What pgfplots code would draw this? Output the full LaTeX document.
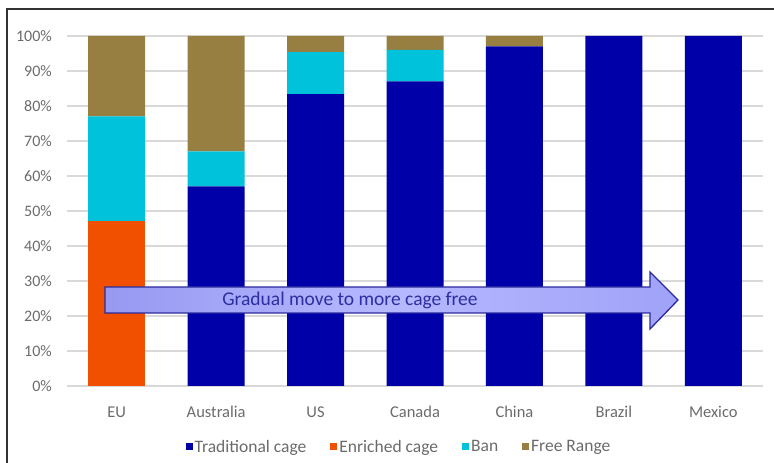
\documentclass[border=0pt]{standalone}
\usepackage{fontspec}
\setmainfont{Carlito}
\usepackage{pgfplots}
\pgfplotsset{compat=1.18}

\definecolor{tradcage}{HTML}{0000A8}
\definecolor{enrcage}{HTML}{F05000}
\definecolor{bancol}{HTML}{00C2DA}
\definecolor{freecol}{HTML}{967F41}
\definecolor{gridgray}{HTML}{D9D9D9}
\definecolor{labelgray}{HTML}{6B6B6B}
\definecolor{arrowedge}{HTML}{2A2A9E}
\definecolor{arrowtext}{HTML}{2E2EA0}
\definecolor{arrowleft}{HTML}{9799F2}
\definecolor{arrowmid}{HTML}{B6B8FF}
\definecolor{arrowright}{HTML}{A0A2F8}

\begin{document}
\begin{tikzpicture}[x=1pt,y=1pt]
\useasboundingbox (0,0) rectangle (774,463);
% frame
\draw[line width=1.4pt,black!80] (7,0) -- (7,454) -- (774,454);

\begin{axis}[
  at={(67pt,77pt)}, anchor=south west,
  scale only axis, width=696pt, height=350pt,
  ybar stacked, bar width=57pt,
  xmin=-0.5, xmax=6.5, ymin=0, ymax=100,
  xtick={0,1,2,3,4,5,6},
  xticklabels={EU,Australia,US,Canada,China,Brazil,Mexico},
  ytick={0,10,...,100},
  yticklabels={0\%,10\%,20\%,30\%,40\%,50\%,60\%,70\%,80\%,90\%,100\%},
  /pgf/number format/assume math mode=true,
  major tick length=0pt,
  axis line style={draw=none},
  ymajorgrids, grid style={gridgray, line width=1.5pt},
  tick label style={text=labelgray},
  yticklabel style={font=\fontsize{16}{18}\selectfont, anchor=east, inner sep=0pt, xshift=-15pt},
  xticklabel style={font=\fontsize{16.5}{18}\selectfont, anchor=base, inner sep=0pt, yshift=-31pt},
  legend columns=4,
  legend style={draw=none, at={(0.477,-0.174)}, anchor=center,
    font=\fontsize{17.5}{19}\selectfont, text=labelgray,
    /tikz/every even column/.append style={column sep=22pt}},
  legend image code/.code={\fill[#1] (0pt,-3.5pt) rectangle (7pt,3.5pt);},
  clip=false,
]
% Traditional cage
\addplot[fill=tradcage, draw=none] coordinates {(0,0) (1,57) (2,83.4) (3,87) (4,97) (5,100) (6,100)};
% Enriched cage
\addplot[fill=enrcage, draw=none] coordinates {(0,47) (1,0) (2,0) (3,0) (4,0) (5,0) (6,0)};
% Ban
\addplot[fill=bancol, draw=none] coordinates {(0,30) (1,10) (2,12) (3,9) (4,0) (5,0) (6,0)};
% Free Range
\addplot[fill=freecol, draw=none] coordinates {(0,23) (1,33) (2,4.6) (3,4) (4,3) (5,0) (6,0)};
\legend{Traditional cage,Enriched cage,Ban,Free Range}
\end{axis}

% annotation arrow
\begin{scope}[shift={(0,463)}, y=-1pt]
  \draw[line width=1.3pt, arrowedge, left color=arrowleft, right color=arrowright,
        middle color=arrowmid]
    (105,287) -- (650,287) -- (650,272) -- (678,300) -- (650,329) -- (650,313) -- (105,313) -- cycle;
  \node[text=arrowtext, font=\fontsize{19.5}{22}\selectfont] at (350,300) {Gradual move to more cage free};
\end{scope}
\end{tikzpicture}
\end{document}
